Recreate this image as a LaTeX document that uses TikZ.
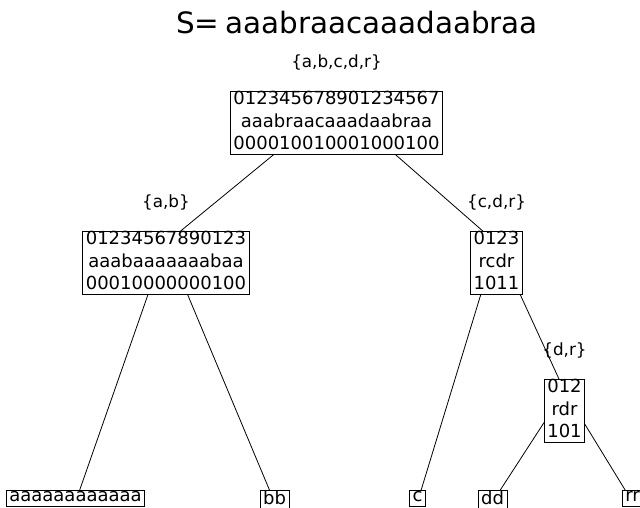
\documentclass[tikz,border=0pt]{standalone}
\usepackage{fontspec}
\setmainfont{DejaVu Sans}
\newcommand\rowstrut{\rule[-5pt]{0pt}{16pt}}
\begin{document}
\begin{tikzpicture}[x=1pt,y=-1pt,
  box/.style={draw, fill=white, line width=0.8pt, inner xsep=3pt, inner ysep=0pt,
    align=center, anchor=north, font=\fontsize{18}{22.5}\selectfont},
  setlabel/.style={font=\fontsize{16.8}{20}\selectfont, inner sep=0pt},
  edge/.style={line width=0.8pt}]
\useasboundingbox (0,0) rectangle (640,507);
\clip (0,0) rectangle (640,507);

% graph points of the wavelet tree
\coordinate (p0) at (336.5,103);
\coordinate (p1) at (166,243);
\coordinate (p2) at (496.5,243);
\coordinate (p3) at (564.5,391);
\coordinate (la) at (75.5,502);
\coordinate (lb) at (274.5,502);
\coordinate (lc) at (417.5,502);
\coordinate (ld) at (492.5,502);
\coordinate (lr) at (632.5,502);

% title
\node[font=\fontsize{29.4}{34}\selectfont, anchor=base] (title) at (357,33) {S=\hspace{6pt}aaabraacaaadaabraa};

% tree edges
\draw[edge] (p0) -- (p1);
\draw[edge] (p0) -- (p2);
\draw[edge] (p1) -- (la);
\draw[edge] (p1) -- (lb);
\draw[edge] (p2) -- (lc);
\draw[edge] (p2) -- (p3);
\draw[edge] (p3) -- (ld);
\draw[edge] (p3) -- (lr);

% alphabet labels
\node[setlabel] (s0) at (336.5,62) {\{a,b,c,d,r\}};
\node[setlabel] (s1) at (166,202) {\{a,b\}};
\node[setlabel] (s2) at (496.5,202) {\{c,d,r\}};
\node[setlabel] (s3) at (564.5,350) {\{d,r\}};

% internal nodes: positions, symbols, bit vectors
\node[box] (n0) at ([yshift=12pt]p0) {\rowstrut012345678901234567\\\rowstrut aaabraacaaadaabraa\\\rowstrut000010010001000100};
\node[box] (n1) at ([yshift=12pt]p1) {\rowstrut01234567890123\\\rowstrut aaabaaaaaaabaa\\\rowstrut00010000000100};
\node[box] (n2) at ([yshift=12pt]p2) {\rowstrut0123\\\rowstrut rcdr\\\rowstrut1011};
\node[box] (n3) at ([yshift=12pt]p3) {\rowstrut012\\\rowstrut rdr\\\rowstrut101};

% leaves
\node[box] (a) at ([yshift=12pt]la) {\rowstrut aaaaaaaaaaaa};
\node[box] (b) at ([yshift=12pt]lb) {\rowstrut bb};
\node[box] (c) at ([yshift=12pt]lc) {\rowstrut c};
\node[box] (d) at ([yshift=12pt]ld) {\rowstrut dd};
\node[box] (r) at ([yshift=12pt]lr) {\rowstrut rr};
\end{tikzpicture}
\end{document}
